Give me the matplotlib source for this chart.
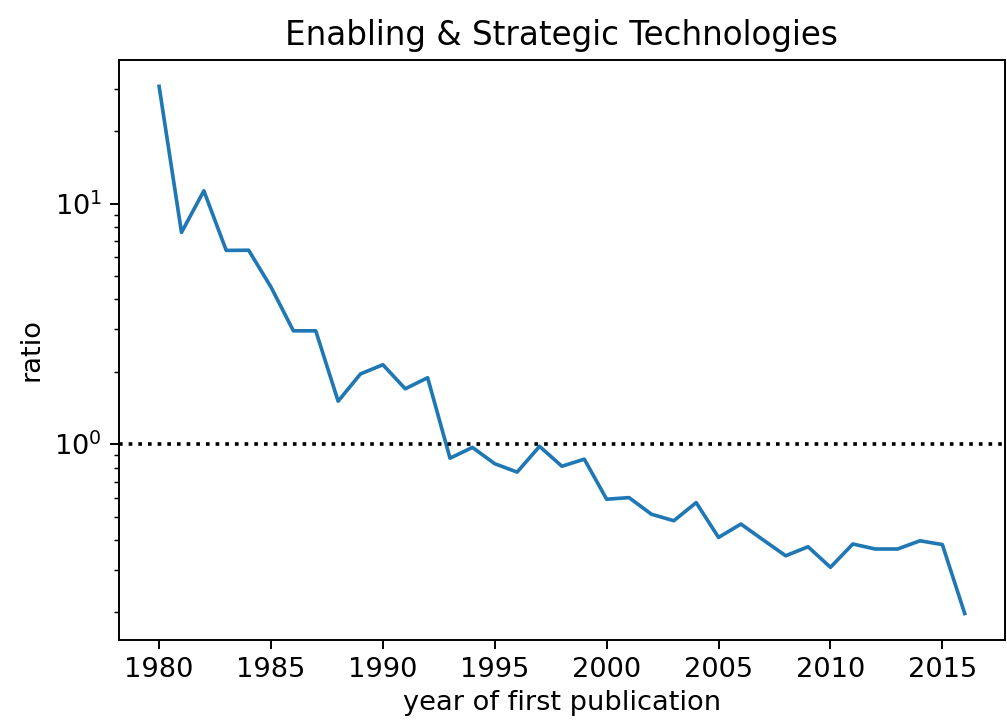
import matplotlib
matplotlib.use("Agg")
import matplotlib.pyplot as plt

years = list(range(1980, 2017))
ratio = [
    30.7, 7.59, 11.3, 6.39, 6.40, 4.5, 2.96, 2.96, 1.51, 1.96,
    2.14, 1.70, 1.89, 0.875, 0.97, 0.83, 0.766, 0.98, 0.81, 0.867,
    0.591, 0.600, 0.512, 0.481, 0.572, 0.410, 0.466, 0.400, 0.344, 0.375,
    0.308, 0.385, 0.367, 0.367, 0.397, 0.383, 0.198,
]
title = "Enabling & Strategic Technologies"

dpi = 175
plt.rcParams["font.size"] = 11.2
plt.rcParams["axes.titlesize"] = 13.4
fig = plt.figure(figsize=(1007 / dpi, 723 / dpi), dpi=dpi)
ax = fig.add_axes([0.118, 0.115, 0.880, 0.802])

ax.plot(years, ratio)
ax.axhline(1, color="k", linestyle=":")
ax.set_yscale("log")
ax.set_xlabel("year of first publication", labelpad=3)
ax.set_ylabel("ratio")
ax.set_title(title)

fig.savefig("out.png", dpi=dpi)
